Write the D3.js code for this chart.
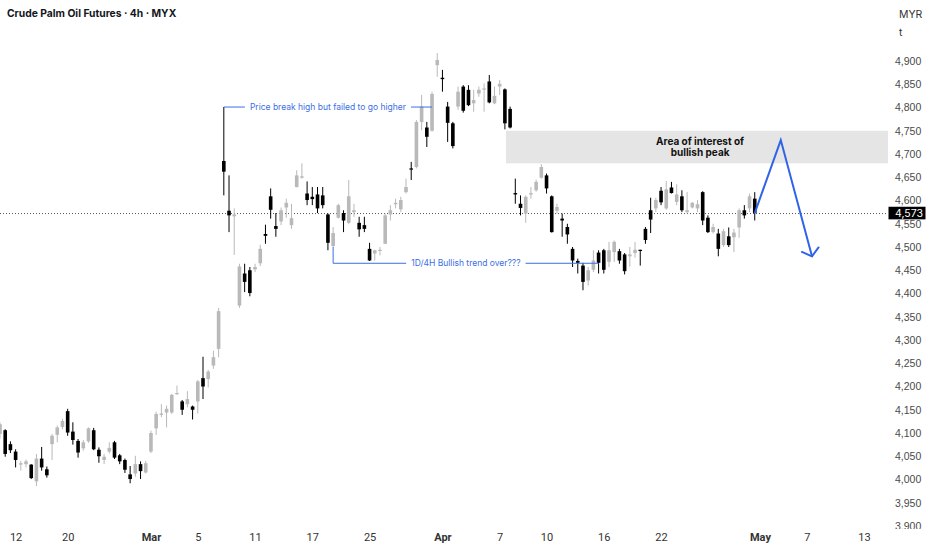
<!DOCTYPE html>
<html>
  <head>
    <meta charset="utf-8">
    <style>
      body { margin: 0; background: #fff; }
      svg { display: block; font-family: Inter, "Noto Sans", sans-serif; }
      .price-axis text { font-size: 10.5px; fill: #4a4a4a; }
      .time-axis text { font-family: Roboto, sans-serif; font-size: 11px; fill: #333; }
      .note { font-size: 8.5px; fill: #3b6fe6; }
    </style>
    <script src="https://d3js.org/d3.v7.min.js"></script>
  </head>
  <body>
    <svg id="chart" width="932" height="550"></svg>

    <script>
      // 4h candles (MYR per tonne)
      var opens = [4098,4106,4076,4060,4032,4033,4032,3996,4045,4022,4076,4096,4113,4147,4103,4083,4067,4082,4106,4064,
        4042,4060,4080,4052,4042,4011,4013,4033,4015,4060,4110,4139,4144,4144,4184,4168,4162,4157,4168,4218,
        4216,4245,4281,4685,4578,4566,4374,4443,4450,4452,4465,4528,4609,4545,4555,4585,4547,4629,4649,4615,
        4608,4613,4611,4570,4502,4563,4573,4552,4575,4552,4547,4496,4486,4493,4507,4570,4592,4581,4618,4669,
        4672,4769,4757,4750,4891,4864,4802,4766,4802,4845,4838,4809,4830,4839,4856,4809,4845,4839,4797,4616,
        4593,4572,4613,4622,4649,4654,4609,4578,4561,4543,4496,4470,4460,4428,4451,4488,4493,4468,4489,4491,
        4484,4480,4487,4494,4539,4579,4583,4621,4583,4628,4597,4609,4575,4585,4583,4618,4563,4532,4529,4504,
        4523,4521,4542,4579,4583,4604];
      var highs = [4123,4108,4082,4065,4040,4043,4033,4055,4070,4028,4098,4116,4131,4152,4123,4087,4085,4112,4111,4069,
        4055,4080,4083,4055,4045,4029,4051,4039,4040,4105,4146,4162,4159,4184,4202,4171,4190,4159,4214,4264,
        4236,4277,4369,4801,4654,4583,4464,4464,4457,4464,4505,4548,4626,4573,4585,4604,4593,4665,4680,4641,
        4629,4629,4629,4572,4543,4593,4579,4644,4593,4565,4565,4509,4494,4500,4572,4590,4604,4608,4647,4683,
        4773,4827,4769,4834,4917,4881,4812,4769,4845,4848,4848,4838,4845,4852,4870,4845,4859,4841,4802,4647,
        4611,4611,4629,4645,4678,4658,4611,4593,4572,4550,4500,4475,4466,4457,4493,4493,4496,4511,4514,4496,
        4487,4500,4511,4494,4543,4606,4606,4629,4642,4640,4635,4622,4618,4597,4601,4620,4568,4550,4539,4539,
        4542,4539,4583,4590,4615,4618];
      var lows = [4088,4049,4057,4026,4019,4026,4001,3986,4019,4004,4042,4080,4108,4094,4075,4047,4062,4079,4063,4036,
        4033,4056,4044,4033,4014,3992,4006,4001,4013,4057,4096,4134,4112,4141,4182,4139,4155,4129,4142,4173,
        4198,4238,4263,4611,4532,4483,4369,4403,4394,4446,4459,4507,4561,4522,4547,4563,4539,4628,4647,4590,
        4590,4573,4583,4493,4500,4561,4532,4549,4565,4522,4532,4470,4471,4482,4506,4557,4583,4575,4615,4644,
        4669,4751,4715,4748,4866,4834,4726,4712,4795,4789,4803,4791,4823,4791,4809,4807,4827,4753,4755,4593,
        4568,4552,4604,4619,4647,4615,4531,4572,4522,4507,4457,4443,4407,4417,4446,4443,4443,4457,4468,4464,
        4441,4458,4477,4460,4507,4530,4575,4590,4580,4615,4590,4575,4572,4583,4575,4547,4530,4529,4480,4500,
        4500,4489,4520,4561,4575,4557];
      var closes = [4119,4055,4063,4042,4035,4039,4003,4045,4026,4009,4094,4112,4126,4101,4085,4058,4080,4110,4065,4050,
        4049,4068,4047,4039,4021,4001,4033,4018,4035,4100,4141,4142,4152,4182,4186,4150,4173,4150,4211,4200,
        4232,4263,4362,4662,4568,4570,4458,4425,4401,4457,4496,4524,4580,4539,4579,4595,4562,4654,4652,4601,
        4603,4583,4590,4509,4530,4590,4557,4609,4579,4538,4539,4471,4493,4494,4568,4579,4595,4601,4629,4667,
        4769,4802,4737,4829,4902,4861,4767,4717,4834,4793,4805,4816,4838,4841,4811,4825,4851,4766,4757,4613,
        4584,4608,4616,4640,4672,4626,4532,4586,4557,4527,4471,4466,4425,4450,4471,4466,4451,4493,4511,4471,
        4448,4484,4494,4492,4515,4559,4601,4596,4624,4616,4613,4579,4579,4595,4592,4557,4532,4543,4496,4534,
        4504,4531,4579,4568,4609,4573];

      var priceTicks = d3.range(3900, 4901, 50);
      var timeLabels = ["12", "20", "Mar", "5", "11", "17", "25", "Apr", "7", "10", "16", "22", "May", "7", "13"];
      var timeLabelBars = [3, 13, 29, 38, 49, 60, 71, 85, 96, 105, 116, 127, 146, 155, 166];
      var monthLabels = ["Mar", "Apr", "May"];
      var lastPrice = 4573;
      var zonePrices = [4680, 4750];
      var zoneFromBar = 97.2;
      var projBars = [145, 150, 156];
      var projPrices = [4573, 4730, 4480];
      var noteTexts = ["Price break high but failed to go higher", "1D/4H Bullish trend over???"];
      var noteFromBars = [43, 64];
      var noteFromPrices = [4801, 4500];
      var noteToBars = [83, 115];
      var noteLevels = [4801, 4465];

      var svg = d3.select("#chart");
      var plotRight = 888, plotBottom = 529;

      var x = d3.scaleLinear().domain([0, 170.6]).range([0, plotRight]);
      var y = d3.scaleLinear().domain([3900, 4900]).range([526, 61]);

      svg.append("rect").attr("width", 932).attr("height", 550).attr("fill", "#fff");

      var defs = svg.append("defs");
      defs.append("clipPath").attr("id", "plot-clip")
        .append("rect").attr("x", 0).attr("y", 0).attr("width", plotRight).attr("height", plotBottom);
      defs.append("clipPath").attr("id", "axis-clip")
        .append("rect").attr("x", 0).attr("y", 40).attr("width", 60).attr("height", plotBottom - 40);

      var plot = svg.append("g").attr("clip-path", "url(#plot-clip)");

      // area of interest
      plot.append("rect")
        .attr("x", x(zoneFromBar))
        .attr("y", y(zonePrices[1]))
        .attr("width", plotRight - x(zoneFromBar))
        .attr("height", y(zonePrices[0]) - y(zonePrices[1]))
        .attr("fill", "#e5e5e5");

      // last price line
      plot.append("line")
        .attr("x1", 0).attr("x2", plotRight)
        .attr("y1", y(lastPrice) + 0.5).attr("y2", y(lastPrice) + 0.5)
        .attr("stroke", "#555").attr("stroke-width", 1).attr("stroke-dasharray", "1,2");

      // candles
      var candles = d3.range(opens.length).map(function(i) {
        return {i: i, o: opens[i], h: highs[i], l: lows[i], c: closes[i]};
      });
      var colorOf = function(d) { return d.c >= d.o ? "#b9b9b9" : "#000"; };

      var g = plot.selectAll(".candle").data(candles).enter().append("g").attr("class", "candle");
      g.append("line")
        .attr("x1", function(d) { return x(d.i); })
        .attr("x2", function(d) { return x(d.i); })
        .attr("y1", function(d) { return y(d.h); })
        .attr("y2", function(d) { return y(d.l); })
        .attr("stroke", colorOf).attr("stroke-width", 1);
      g.append("rect")
        .attr("x", function(d) { return x(d.i) - 1.8; })
        .attr("width", 3.6)
        .attr("y", function(d) { return y(Math.max(d.o, d.c)); })
        .attr("height", function(d) { return Math.max(1.2, Math.abs(y(d.o) - y(d.c))); })
        .attr("fill", colorOf);

      // annotations with bracket lines
      noteTexts.forEach(function(t, k) {
        var x0 = x(noteFromBars[k]), x1 = x(noteToBars[k]), yl = y(noteLevels[k]);
        var mid = (x0 + x1) / 2;
        var label = plot.append("text").attr("class", "note")
          .attr("x", mid).attr("y", yl)
          .attr("dy", "0.35em").attr("text-anchor", "middle").text(t);
        var w = label.node().getComputedTextLength();
        if (k === 1) {
          plot.append("line").attr("x1", x0).attr("x2", x0)
            .attr("y1", y(noteFromPrices[k])).attr("y2", yl)
            .attr("stroke", "#3b6fe6").attr("stroke-width", 1);
        }
        plot.append("line").attr("x1", x0).attr("x2", mid - w / 2 - 5)
          .attr("y1", yl).attr("y2", yl).attr("stroke", "#3b6fe6").attr("stroke-width", 1);
        plot.append("line").attr("x1", mid + w / 2 + 5).attr("x2", x1)
          .attr("y1", yl).attr("y2", yl).attr("stroke", "#3b6fe6").attr("stroke-width", 1);
      });

      // zone label
      var zx = x(134.5);
      var zt = plot.append("text")
        .attr("x", zx).attr("y", y(zonePrices[1]) + 14)
        .attr("text-anchor", "middle")
        .style("font-size", "10px").style("font-weight", 700).attr("fill", "#111");
      zt.append("tspan").attr("x", zx).text("Area of interest of");
      zt.append("tspan").attr("x", zx).attr("dy", 11).text("bullish peak");

      // projected path
      var pts = projBars.map(function(b, k) { return [x(b), y(projPrices[k])]; });
      plot.append("path")
        .attr("d", d3.line()(pts))
        .attr("fill", "none").attr("stroke", "#2f63ea").attr("stroke-width", 2)
        .attr("stroke-linejoin", "miter");
      var tip = pts[2], prev = pts[1];
      var ang = Math.atan2(prev[1] - tip[1], prev[0] - tip[0]);
      [-0.9, 0.9].forEach(function(da) {
        plot.append("line")
          .attr("x1", tip[0]).attr("y1", tip[1])
          .attr("x2", tip[0] + 11 * Math.cos(ang + da)).attr("y2", tip[1] + 11 * Math.sin(ang + da))
          .attr("stroke", "#2f63ea").attr("stroke-width", 2).attr("stroke-linecap", "round");
      });

      // price axis
      var yAxis = svg.append("g").attr("class", "price-axis")
        .attr("transform", "translate(" + plotRight + ",0)")
        .attr("clip-path", "url(#axis-clip)")
        .call(d3.axisRight(y).tickValues(priceTicks).tickSize(0).tickPadding(7).tickFormat(d3.format(",")));
      yAxis.select(".domain").remove();

      // last price tag
      svg.append("rect")
        .attr("x", plotRight + 0.5).attr("y", y(lastPrice) - 6.3)
        .attr("width", 37).attr("height", 12.6).attr("fill", "#000");
      svg.append("text")
        .attr("x", plotRight + 7).attr("y", y(lastPrice)).attr("dy", "0.35em")
        .style("font-size", "10.5px").attr("fill", "#fff").text(d3.format(",")(lastPrice));

      // currency / unit
      svg.append("text").attr("x", 899).attr("y", 18).style("font-size", "10.5px").attr("fill", "#333").text("MYR");
      svg.append("text").attr("x", 899).attr("y", 36).style("font-size", "10.5px").attr("fill", "#333").text("t");

      // time axis
      var xAxis = svg.append("g").attr("class", "time-axis")
        .attr("transform", "translate(0," + 530 + ")")
        .call(d3.axisBottom(x).tickValues(timeLabelBars).tickSize(0).tickPadding(3)
          .tickFormat(function(d, i) { return timeLabels[i]; }));
      xAxis.select(".domain").remove();
      xAxis.selectAll("text")
        .style("font-weight", function(d, i) { return monthLabels.indexOf(timeLabels[i]) >= 0 ? 700 : 400; });

      // title
      svg.append("text").attr("x", 7).attr("y", 16.5)
        .style("font-size", "10.3px").style("font-weight", 700).attr("fill", "#131722")
        .text("Crude Palm Oil Futures · 4h · MYX");
    </script>
  </body>
</html>
